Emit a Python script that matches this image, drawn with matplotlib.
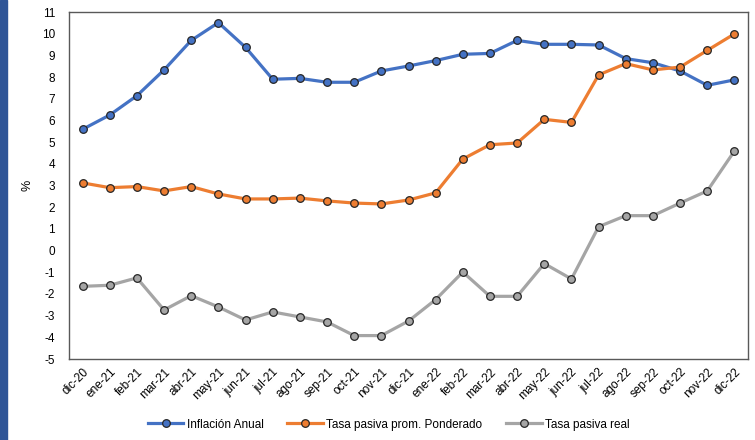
import matplotlib.pyplot as plt
from matplotlib.patches import Rectangle

plt.rcParams['font.family'] = ['Liberation Sans', 'DejaVu Sans']
plt.rcParams['axes.unicode_minus'] = False

# Data
meses = ['dic-20', 'ene-21', 'feb-21', 'mar-21', 'abr-21', 'may-21', 'jun-21',
         'jul-21', 'ago-21', 'sep-21', 'oct-21', 'nov-21', 'dic-21', 'ene-22',
         'feb-22', 'mar-22', 'abr-22', 'may-22', 'jun-22', 'jul-22', 'ago-22',
         'sep-22', 'oct-22', 'nov-22', 'dic-22']
inflacion = [5.59, 6.25, 7.14, 8.33, 9.69, 10.51, 9.37, 7.90, 7.94, 7.76, 7.76,
             8.28, 8.51, 8.76, 9.05, 9.09, 9.69, 9.51, 9.51, 9.48, 8.85, 8.66,
             8.28, 7.62, 7.87]
tasa_pond = [3.12, 2.90, 2.95, 2.75, 2.95, 2.61, 2.38, 2.38, 2.42, 2.29, 2.19,
             2.15, 2.33, 2.66, 4.22, 4.88, 4.96, 6.05, 5.91, 8.10, 8.62, 8.33,
             8.46, 9.23, 9.99]
tasa_real = [-1.65, -1.60, -1.26, -2.74, -2.08, -2.60, -3.20, -2.83, -3.06, -3.29,
             -3.92, -3.92, -3.25, -2.26, -0.99, -2.11, -2.11, -0.60, -1.31, 1.10,
             1.61, 1.61, 2.19, 2.75, 4.59]

fig = plt.figure(figsize=(7.55, 4.4), dpi=100)
ax = fig.add_axes([69/755, 81/440, 679/755, 347/440])

x = range(len(meses))
series = [(inflacion, '#4472C4', 'Inflación Anual'),
          (tasa_pond, '#ED7D31', 'Tasa pasiva prom. Ponderado'),
          (tasa_real, '#A5A5A5', 'Tasa pasiva real')]
for vals, col, lab in series:
    ax.plot(x, vals, color=col, lw=2.3, marker='o', ms=5.5,
            mfc=col, mec='#262626', mew=0.9, label=lab)

ax.set_xlim(-0.5, len(meses) - 0.5)
ax.set_ylim(-5, 11)
ax.set_yticks(range(-5, 12))
ax.set_xticks(list(x))
ax.set_xticklabels(meses, rotation=45, ha='right', rotation_mode='anchor')
ax.tick_params(length=0, labelsize=8.5, colors='#000000')
ax.tick_params(axis='y', pad=10)
ax.tick_params(axis='x', pad=5)
for s in ax.spines.values():
    s.set_color('#595959')
    s.set_linewidth(1)
ax.set_ylabel('%', fontsize=9, labelpad=6)

fig.legend(loc='center', bbox_to_anchor=(0.515, 0.035), ncol=3, frameon=False,
           fontsize=8.5, handlelength=3, columnspacing=2.0, handletextpad=0.3)

# blue band on the left edge
fig.patches.append(Rectangle((0, 0), 7/755, 1, transform=fig.transFigure,
                             color='#2F5597', zorder=10))

fig.savefig('out.png', dpi=100)
